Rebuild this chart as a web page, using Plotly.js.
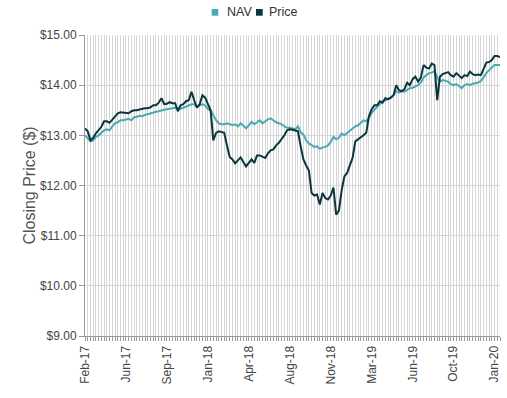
<!DOCTYPE html>
<html>
<head>
<meta charset="utf-8">
<script src="https://cdn.plot.ly/plotly-3.0.1.min.js"></script>
<style>html,body{margin:0;padding:0;background:#fff;}#chart{width:507px;height:398px;}</style>
</head>
<body>
<div id="chart"></div>
<script>
// Weekly closing values, Feb-17 .. Jan-20
const price = [
13.14,13.08,12.90,12.95,13.04,13.10,13.17,13.28,13.28,13.25,
13.32,13.38,13.44,13.46,13.45,13.44,13.44,13.48,13.50,13.50,
13.52,13.53,13.54,13.54,13.56,13.60,13.60,13.65,13.74,13.62,
13.63,13.66,13.64,13.64,13.48,13.60,13.62,13.68,13.70,13.87,
13.70,13.55,13.62,13.80,13.75,13.62,13.50,12.90,13.05,13.08,
13.07,13.05,12.80,12.57,12.52,12.44,12.50,12.56,12.47,12.38,
12.45,12.52,12.45,12.60,12.60,12.57,12.55,12.64,12.70,12.72,
12.80,12.85,12.92,13.00,13.10,13.12,13.11,13.10,13.08,12.78,
12.52,12.40,12.30,11.85,11.80,11.82,11.62,11.85,11.75,11.72,
11.80,11.96,11.42,11.50,11.90,12.18,12.25,12.40,12.55,12.88,
12.92,12.95,13.00,13.05,13.38,13.52,13.60,13.60,13.68,13.65,
13.74,13.72,13.75,13.80,14.00,13.90,13.88,13.92,14.05,14.00,
14.12,14.17,14.07,14.15,14.40,14.35,14.33,14.43,14.40,13.70,
14.17,14.22,14.24,14.26,14.20,14.17,14.24,14.18,14.14,14.20,
14.18,14.27,14.22,14.20,14.21,14.20,14.33,14.45,14.46,14.50,
14.58,14.58,14.56
];
const nav = [
13.00,12.95,12.88,12.90,12.97,13.00,13.05,13.10,13.12,13.10,
13.18,13.24,13.26,13.30,13.30,13.32,13.33,13.30,13.36,13.37,
13.39,13.38,13.41,13.42,13.44,13.45,13.47,13.48,13.50,13.51,
13.52,13.53,13.55,13.55,13.54,13.53,13.55,13.57,13.60,13.62,
13.62,13.57,13.60,13.62,13.60,13.52,13.50,13.40,13.30,13.24,
13.22,13.22,13.24,13.22,13.20,13.22,13.18,13.24,13.18,13.14,
13.20,13.27,13.22,13.26,13.30,13.24,13.28,13.32,13.34,13.30,
13.26,13.24,13.22,13.18,13.15,13.15,13.14,13.12,13.18,13.06,
13.02,12.90,12.84,12.80,12.77,12.78,12.73,12.76,12.77,12.80,
12.87,12.97,12.92,12.95,13.04,13.00,13.05,13.10,13.13,13.18,
13.20,13.26,13.30,13.28,13.35,13.45,13.52,13.57,13.62,13.68,
13.70,13.72,13.75,13.80,13.88,13.85,13.88,13.87,13.90,13.94,
13.95,13.98,14.00,14.05,14.15,14.20,14.24,14.25,14.28,14.15,
14.07,14.10,14.08,14.07,14.02,14.00,14.02,13.97,13.94,14.00,
14.02,14.00,14.03,14.04,14.05,14.08,14.17,14.24,14.30,14.36,
14.40,14.40,14.40
];
const seriesNames = ['NAV', 'Price'];
const tickLabels = ['Feb-17','Jun-17','Sep-17','Jan-18','Apr-18','Aug-18','Nov-18','Mar-19','Jun-19','Oct-19','Jan-20'];
const labelEvery = 15; // weeks between labels
const yTicks = [9,10,11,12,13,14,15];
const yTickText = yTicks.map(v => '$' + v.toFixed(2));

const navColor = '#4aa9b1';
const priceColor = '#0b363c';
const colors = [navColor, priceColor];
const idx = price.map((_, i) => i);

const traces = [
  {x: idx, y: nav, name: seriesNames[0], type: 'scatter', mode: 'lines', line: {color: navColor, width: 2}, hoverinfo: 'skip'},
  {x: idx, y: price, name: seriesNames[1], type: 'scatter', mode: 'lines', line: {color: priceColor, width: 2}, hoverinfo: 'skip'}
];

// custom legend (square swatches + labels) placed above the plot
const legendSquareX = [[0.3053, 0.3212], [0.4120, 0.4282]];
const legendTextX = [0.3373, 0.4378];
const shapes = legendSquareX.map((sx, k) => ({
  type: 'rect', xref: 'paper', yref: 'paper', x0: sx[0], x1: sx[1], y0: 1.0641, y1: 1.0864,
  fillcolor: colors[k], line: {width: 0}
}));
const annotations = seriesNames.map((n, k) => ({
  text: n, xref: 'paper', yref: 'paper', x: legendTextX[k], y: 1.0754, xanchor: 'left', yanchor: 'middle',
  showarrow: false, font: {size: 12.5, color: '#333'}
}));

const layout = {
  width: 507, height: 398,
  margin: {l: 85, r: 7, t: 35, b: 62},
  paper_bgcolor: '#fff', plot_bgcolor: '#fff',
  font: {family: 'Liberation Sans, Arial, sans-serif', size: 12, color: '#444'},
  showlegend: false,
  shapes: shapes,
  annotations: annotations,
  xaxis: {
    range: [0, price.length - 1],
    tickmode: 'array',
    tickvals: tickLabels.map((_, k) => k * labelEvery),
    ticktext: tickLabels,
    tickangle: -90,
    ticks: 'outside', ticklen: 4, tickcolor: '#999',
    showgrid: true, gridcolor: '#d6d6d6', gridwidth: 1,
    minor: {tickmode: 'linear', tick0: 0, dtick: 1, showgrid: true, gridcolor: '#d6d6d6', gridwidth: 1, ticks: 'outside', ticklen: 4, tickcolor: '#999'},
    showline: true, linecolor: '#999', linewidth: 1,
    zeroline: false,
    tickfont: {size: 12, color: '#444'}
  },
  yaxis: {
    range: [9, 15],
    tickmode: 'array',
    tickvals: yTicks,
    ticktext: yTickText,
    ticks: 'outside', ticklen: 5, tickcolor: '#999',
    showgrid: true, gridcolor: '#d6d6d6', gridwidth: 1,
    showline: true, linecolor: '#999', linewidth: 1,
    zeroline: false,
    tickfont: {size: 12, color: '#444'},
    title: {text: 'Closing Price ($)', font: {size: 16, color: '#555'}, standoff: 0}
  }
};

Plotly.newPlot('chart', traces, layout, {staticPlot: true, displayModeBar: false});
</script>
</body>
</html>
